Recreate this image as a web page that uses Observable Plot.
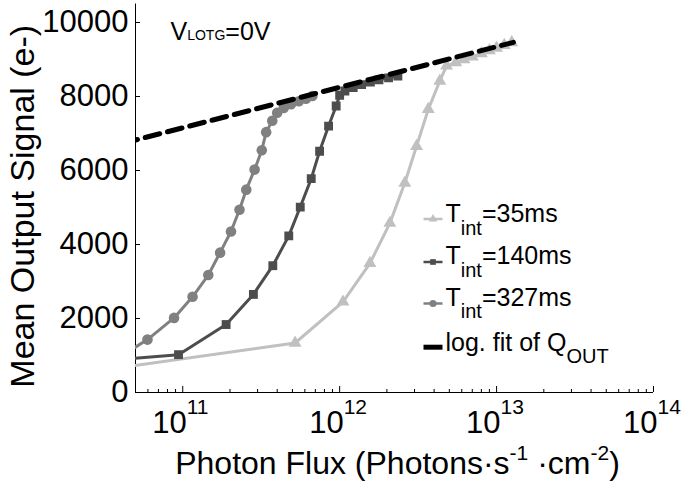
<!DOCTYPE html>
<html><head><meta charset="utf-8">
<script src="https://cdn.jsdelivr.net/npm/d3@7"></script>
<script src="https://cdn.jsdelivr.net/npm/@observablehq/plot@0.6"></script>
<style>body{margin:0;background:#fff;} #chart svg{display:block;}</style>
</head><body><div id="chart"></div>
<script>
// ---- data ----
const flux35 = [3e10, 5.2e11, 1.05e12, 1.56e12, 2.09e12, 2.60e12, 3.09e12, 3.67e12, 4.35e12, 4.8e12, 5.5e12, 6.2e12, 7.0e12, 8.0e12, 9.0e12, 1.0e13, 1.12e13, 1.25e13];
const sig35  = [601, 1338, 2450, 3492, 4578, 5664, 6657, 7653, 8421, 8828, 8918, 8997, 9077, 9165, 9243, 9313, 9387, 9460];

const flux140 = [3e10, 9.4e10, 1.89e11, 2.82e11, 3.75e11, 4.74e11, 5.61e11, 6.59e11, 7.45e11, 8.5e11, 9.5e11, 1.0e12, 1.08e12, 1.22e12, 1.38e12, 1.57e12, 1.78e12, 2.05e12, 2.35e12];
const sig140  = [846, 1023, 1837, 2651, 3427, 4233, 5012, 5780, 6521, 7200, 7742, 8033, 8150, 8240, 8320, 8390, 8450, 8505, 8550];

const flux327 = [4.5e10, 5.96e10, 8.8e10, 1.155e11, 1.455e11, 1.73e11, 2.03e11, 2.3e11, 2.54e11, 2.87e11, 3.19e11, 3.4e11, 3.72e11, 4.0e11, 4.4e11, 4.9e11, 5.5e11, 6.1e11, 6.7e11];
const sig327  = [1107, 1430, 2016, 2586, 3175, 3780, 4350, 4939, 5482, 6024, 6548, 7037, 7346, 7560, 7690, 7790, 7870, 7940, 8015];

const fitFlux = [3e10, 1.28e13];
const fitSig  = [6580, 9463];

const yTicks = [0, 2000, 4000, 6000, 8000, 10000];
const xDecades = [1e11, 1e12, 1e13, 1e14];
const xExponents = ["11", "12", "13", "14"];
const xMinor = [5e10,6e10,7e10,8e10,9e10,2e11,3e11,4e11,5e11,6e11,7e11,8e11,9e11,2e12,3e12,4e12,5e12,6e12,7e12,8e12,9e12,2e13,3e13,4e13,5e13,6e13,7e13,8e13,9e13];

const legendNames = ["=35ms", "=140ms", "=327ms"];
const colors = {c35: "#c0c0c0", c140: "#4d4d4d", c327: "#808080"};

// ---- layout ----
const W = 683, H = 482, mL = 135, mR = 30, mT = 3.5, mB = 90;
const xDom = [5e10, 1e14], yDom = [0, 10500];
const pxPerUnitY = (H - mB - mT) / (yDom[1] - yDom[0]);
const pxPerDecade = (W - mL - mR) / Math.log10(xDom[1] / xDom[0]);
const yLen = px => px / pxPerUnitY;                 // pixel length -> y units
const xEnd = px => xDom[0] * Math.pow(10, px / pxPerDecade);

const zip = (xs, ys) => xs.map((x, i) => ({x, y: ys[i]}));
const d35 = zip(flux35, sig35), d140 = zip(flux140, sig140), d327 = zip(flux327, sig327), dFit = zip(fitFlux, fitSig);

const FONT = "'Liberation Sans', Arial, Helvetica, sans-serif";
const seg = half => ({draw(ctx) { ctx.moveTo(-half, 0); ctx.lineTo(half, 0); }});
const at = (px, py) => ({frameAnchor: "top-left", dx: px - mL, dy: py - mT});

const legendRows = [
  {y: 218.5, color: colors.c35, symbol: "triangle", r: 3.2, base: 221.7},
  {y: 261.5, color: colors.c140, symbol: "square", r: 3.2, base: 263.5},
  {y: 303, color: colors.c327, symbol: "circle", r: 3.6, base: 305.3}
];

const marks = [
  // axes lines
  Plot.ruleX([xDom[0]], {y1: yDom[0], y2: yDom[1], stroke: "#000", strokeWidth: 1}),
  Plot.ruleY([0], {x1: xDom[0], x2: xDom[1], stroke: "#000", strokeWidth: 1}),
  // ticks
  Plot.ruleY(yTicks, {x1: xDom[0], x2: xEnd(5), stroke: "#000"}),
  Plot.ruleX(xDecades, {y1: 0, y2: yLen(6), stroke: "#000"}),
  Plot.ruleX(xMinor, {y1: 0, y2: yLen(3), stroke: "#000"}),
  // tick labels
  Plot.text(yTicks, {y: d => d, text: d => String(d), frameAnchor: "left", dx: -7, textAnchor: "end", lineAnchor: "middle", fontSize: 31}),
  Plot.text(xDecades, {x: d => d, text: () => "10", frameAnchor: "bottom", dy: 40, dx: 4, textAnchor: "end", lineAnchor: "bottom", fontSize: 31}),
  Plot.text(xDecades, {x: d => d, text: (d, i) => xExponents[i], frameAnchor: "bottom", dy: 21, dx: 4, textAnchor: "start", lineAnchor: "bottom", fontSize: 21}),
  // series
  Plot.line(d35, {x: "x", y: "y", stroke: colors.c35, strokeWidth: 3, clip: true}),
  Plot.dot(d35, {x: "x", y: "y", symbol: "triangle", r: 4.8, fill: colors.c35, clip: true}),
  Plot.line(d140, {x: "x", y: "y", stroke: colors.c140, strokeWidth: 3, clip: true}),
  Plot.dot(d140, {x: "x", y: "y", symbol: "square", r: 5, fill: colors.c140, clip: true}),
  Plot.line(d327, {x: "x", y: "y", stroke: colors.c327, strokeWidth: 3, clip: true}),
  Plot.dot(d327, {x: "x", y: "y", symbol: "circle", r: 5.3, fill: colors.c327, clip: true}),
  Plot.line(dFit, {x: "x", y: "y", stroke: "#000", strokeWidth: 5, strokeDasharray: "15,8", clip: true}),
  // axis titles
  Plot.text(["Mean Output Signal (e-)"], {frameAnchor: "left", rotate: -90, dx: -112, dy: 8, fontSize: 34, textAnchor: "middle", lineAnchor: "middle"}),
  Plot.text(["Photon Flux (Photons·s-1 ·cm-2)"], {frameAnchor: "bottom", dy: 81, dx: 3, fontSize: 32, textAnchor: "middle", lineAnchor: "bottom"}),
  // annotation
  Plot.text(["VLOTG=0V"], {...at(170, 39.3), fontSize: 25, textAnchor: "start", lineAnchor: "bottom"}),
  // legend
  ...legendRows.flatMap((row, i) => [
    Plot.dot([0], {...at(432.5, row.y), symbol: seg(9.5), stroke: row.color, strokeWidth: 2.5, fill: "none"}),
    Plot.dot([0], {...at(432.5, row.y), symbol: row.symbol, r: row.r, fill: row.color}),
    Plot.text(["Tint" + legendNames[i]], {...at(445, row.base), fontSize: 25, textAnchor: "start", lineAnchor: "bottom"})
  ]),
  Plot.dot([0], {...at(432.5, 346.7), symbol: seg(9.5), stroke: "#000", strokeWidth: 5, fill: "none"}),
  Plot.text(["log. fit of QOUT"], {...at(445, 350), fontSize: 25, textAnchor: "start", lineAnchor: "bottom"})
];

const svg = Plot.plot({
  width: W, height: H,
  marginLeft: mL, marginRight: mR, marginTop: mT, marginBottom: mB,
  x: {type: "log", domain: xDom, axis: null},
  y: {domain: yDom, axis: null},
  style: {fontFamily: FONT, background: "#fff", color: "#000", overflow: "visible"},
  marks
});

// rich text (sub/superscripts) as tspans
function richify(plain, parts) {
  const el = [...svg.querySelectorAll("text")].find(t => t.textContent === plain);
  if (!el) return;
  el.textContent = "";
  let prev = 0;
  for (const p of parts) {
    const ts = document.createElementNS("http://www.w3.org/2000/svg", "tspan");
    const shift = p.shift || 0;
    if (shift !== prev) ts.setAttribute("dy", String(shift - prev));
    if (p.size) ts.setAttribute("font-size", p.size);
    ts.textContent = p.t;
    el.appendChild(ts);
    prev = shift;
  }
}
richify("VLOTG=0V", [{t: "V"}, {t: "LOTG", size: 14}, {t: "=0V"}]);
legendNames.forEach(n => richify("Tint" + n, [{t: "T"}, {t: "int", size: 20, shift: 12.6}, {t: n}]));
richify("log. fit of QOUT", [{t: "log. fit of Q"}, {t: "OUT", size: 20, shift: 12}]);
richify("Photon Flux (Photons·s-1 ·cm-2)", [{t: "Photon Flux (Photons·s"}, {t: "-1", size: 21, shift: -14}, {t: " ·cm"}, {t: "-2", size: 21, shift: -14}, {t: ")"}]);

document.getElementById("chart").appendChild(svg);
</script>
</body></html>
